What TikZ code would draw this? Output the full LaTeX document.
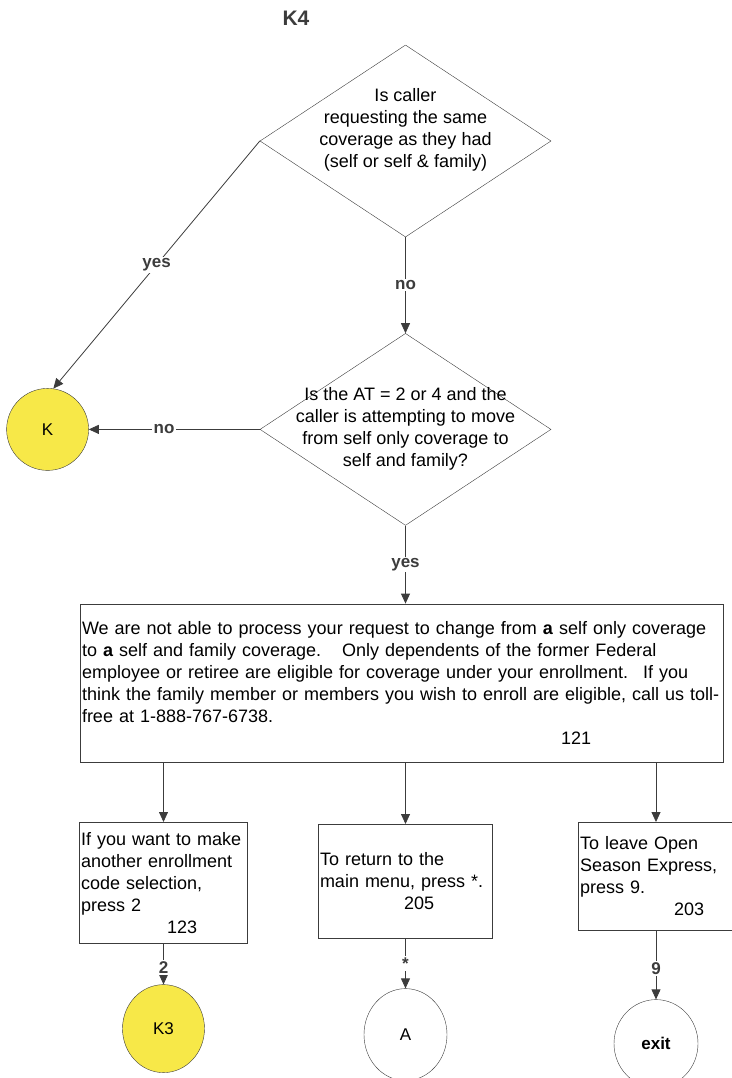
\documentclass[tikz,border=0pt]{standalone}
\usepackage{fontspec}
\setmainfont{Liberation Sans}
\usetikzlibrary{arrows.meta,positioning,shapes.geometric}
\definecolor{linie}{RGB}{60,60,60}
\definecolor{gelb}{RGB}{247,232,72}

\tikzset{
  frage/.style={draw=linie,diamond,minimum width=291pt,minimum height=192pt,inner sep=0pt},
  fragetext/.style={align=center,font=\fontsize{18}{22}\selectfont},
  kasten/.style={draw=linie,align=left,font=\fontsize{18}{22}\selectfont,inner xsep=1.5pt},
  marke/.style={draw=linie,ellipse,font=\fontsize{17}{20}\selectfont,inner sep=0pt},
  pfeil/.style={draw=linie,line width=0.8pt,-{Triangle[length=10pt,width=9pt]}},
  wahl/.style={fill=white,text=linie,font=\bfseries\fontsize{17}{20}\selectfont,inner sep=1.5pt}
}

\begin{document}
\begin{tikzpicture}[x=1pt,y=1pt]
\useasboundingbox (0,0) rectangle (731,-1078);

\node[font=\bfseries\fontsize{21}{22}\selectfont,text=linie] (k4) at (296,-18) {K4};

% questions
\node[frage] (q1) at (405.5,-141) {};
\node[fragetext,yshift=11pt] (q1text) at (q1) {Is caller\\requesting the same\\coverage as they had\\(self or self \& family)};
\node[frage,below=96pt of q1] (q2) {};
\node[fragetext,yshift=1pt] (q2text) at (q2) {Is the AT = 2 or 4 and the\\caller is attempting to move\\from self only coverage to\\self and family?};
\node[marke,circle,fill=gelb,minimum size=82pt,left=171pt of q2] (kcirc) {K};

% message
\node[kasten,text width=640pt,minimum height=158pt,below=78pt of q2,xshift=-3.5pt] (msg)
{We are not able to process your request to change from \textbf{a} self only coverage\\
to \textbf{a} self and family coverage. \ \ Only dependents of the former Federal\\
employee or retiree are eligible for coverage under your enrollment. \ If you\\
think the family member or members you wish to enroll are eligible, call us toll-\\
free at 1-888-767-6738.\\
\hspace*{479pt}121};

% options
\node[kasten,text width=165pt,minimum height=121pt,below=60pt of msg.south,xshift=-238.5pt] (opt1)
{If you want to make\\another enrollment\\code selection,\\press 2\\\hspace*{86pt}123};
\node[kasten,text width=171pt,minimum height=114pt,below=62pt of msg.south,xshift=3.5pt] (opt2)
{To return to the\\main menu, press *.\\\hspace*{84pt}205};
\node[kasten,text width=152pt,minimum height=108pt,below=60pt of msg.south,xshift=254pt] (opt3)
{To leave Open\\Season Express,\\press 9.\\\hspace*{94pt}203};

\node[marke,fill=gelb,minimum width=82pt,minimum height=88pt,below=41pt of opt1] (k3) {K3};
\node[marke,minimum width=83pt,minimum height=92pt,below=50pt of opt2] (ende) {A};
\node[marke,minimum width=84pt,minimum height=88pt,below=69pt of opt3,font=\bfseries\fontsize{17}{20}\selectfont] (exit) {exit};

% connectors
\draw[pfeil] (q1.west) -- node[wahl,pos=0.5] {yes} (kcirc.82);
\draw[pfeil] (q1.south) -- node[wahl] {no} (q2.north);
\draw[pfeil] (q2.west) -- node[wahl,pos=0.56] {no} (kcirc.east);
\draw[pfeil] (q2.south) -- node[wahl] {yes} (q2.south |- msg.north);
\draw[pfeil] (opt1.north |- msg.south) -- (opt1.north);
\draw[pfeil] (opt2.north |- msg.south) -- (opt2.north);
\draw[pfeil] (opt3.north |- msg.south) -- (opt3.north);
\draw[pfeil] (opt1.south) -- node[wahl,pos=0.58] {2} (k3.north);
\draw[pfeil] (opt2.south) -- node[wahl,pos=0.5] {*} (ende.north);
\draw[pfeil] (opt3.south) -- node[wahl,pos=0.55] {9} (exit.north);
\end{tikzpicture}
\end{document}
